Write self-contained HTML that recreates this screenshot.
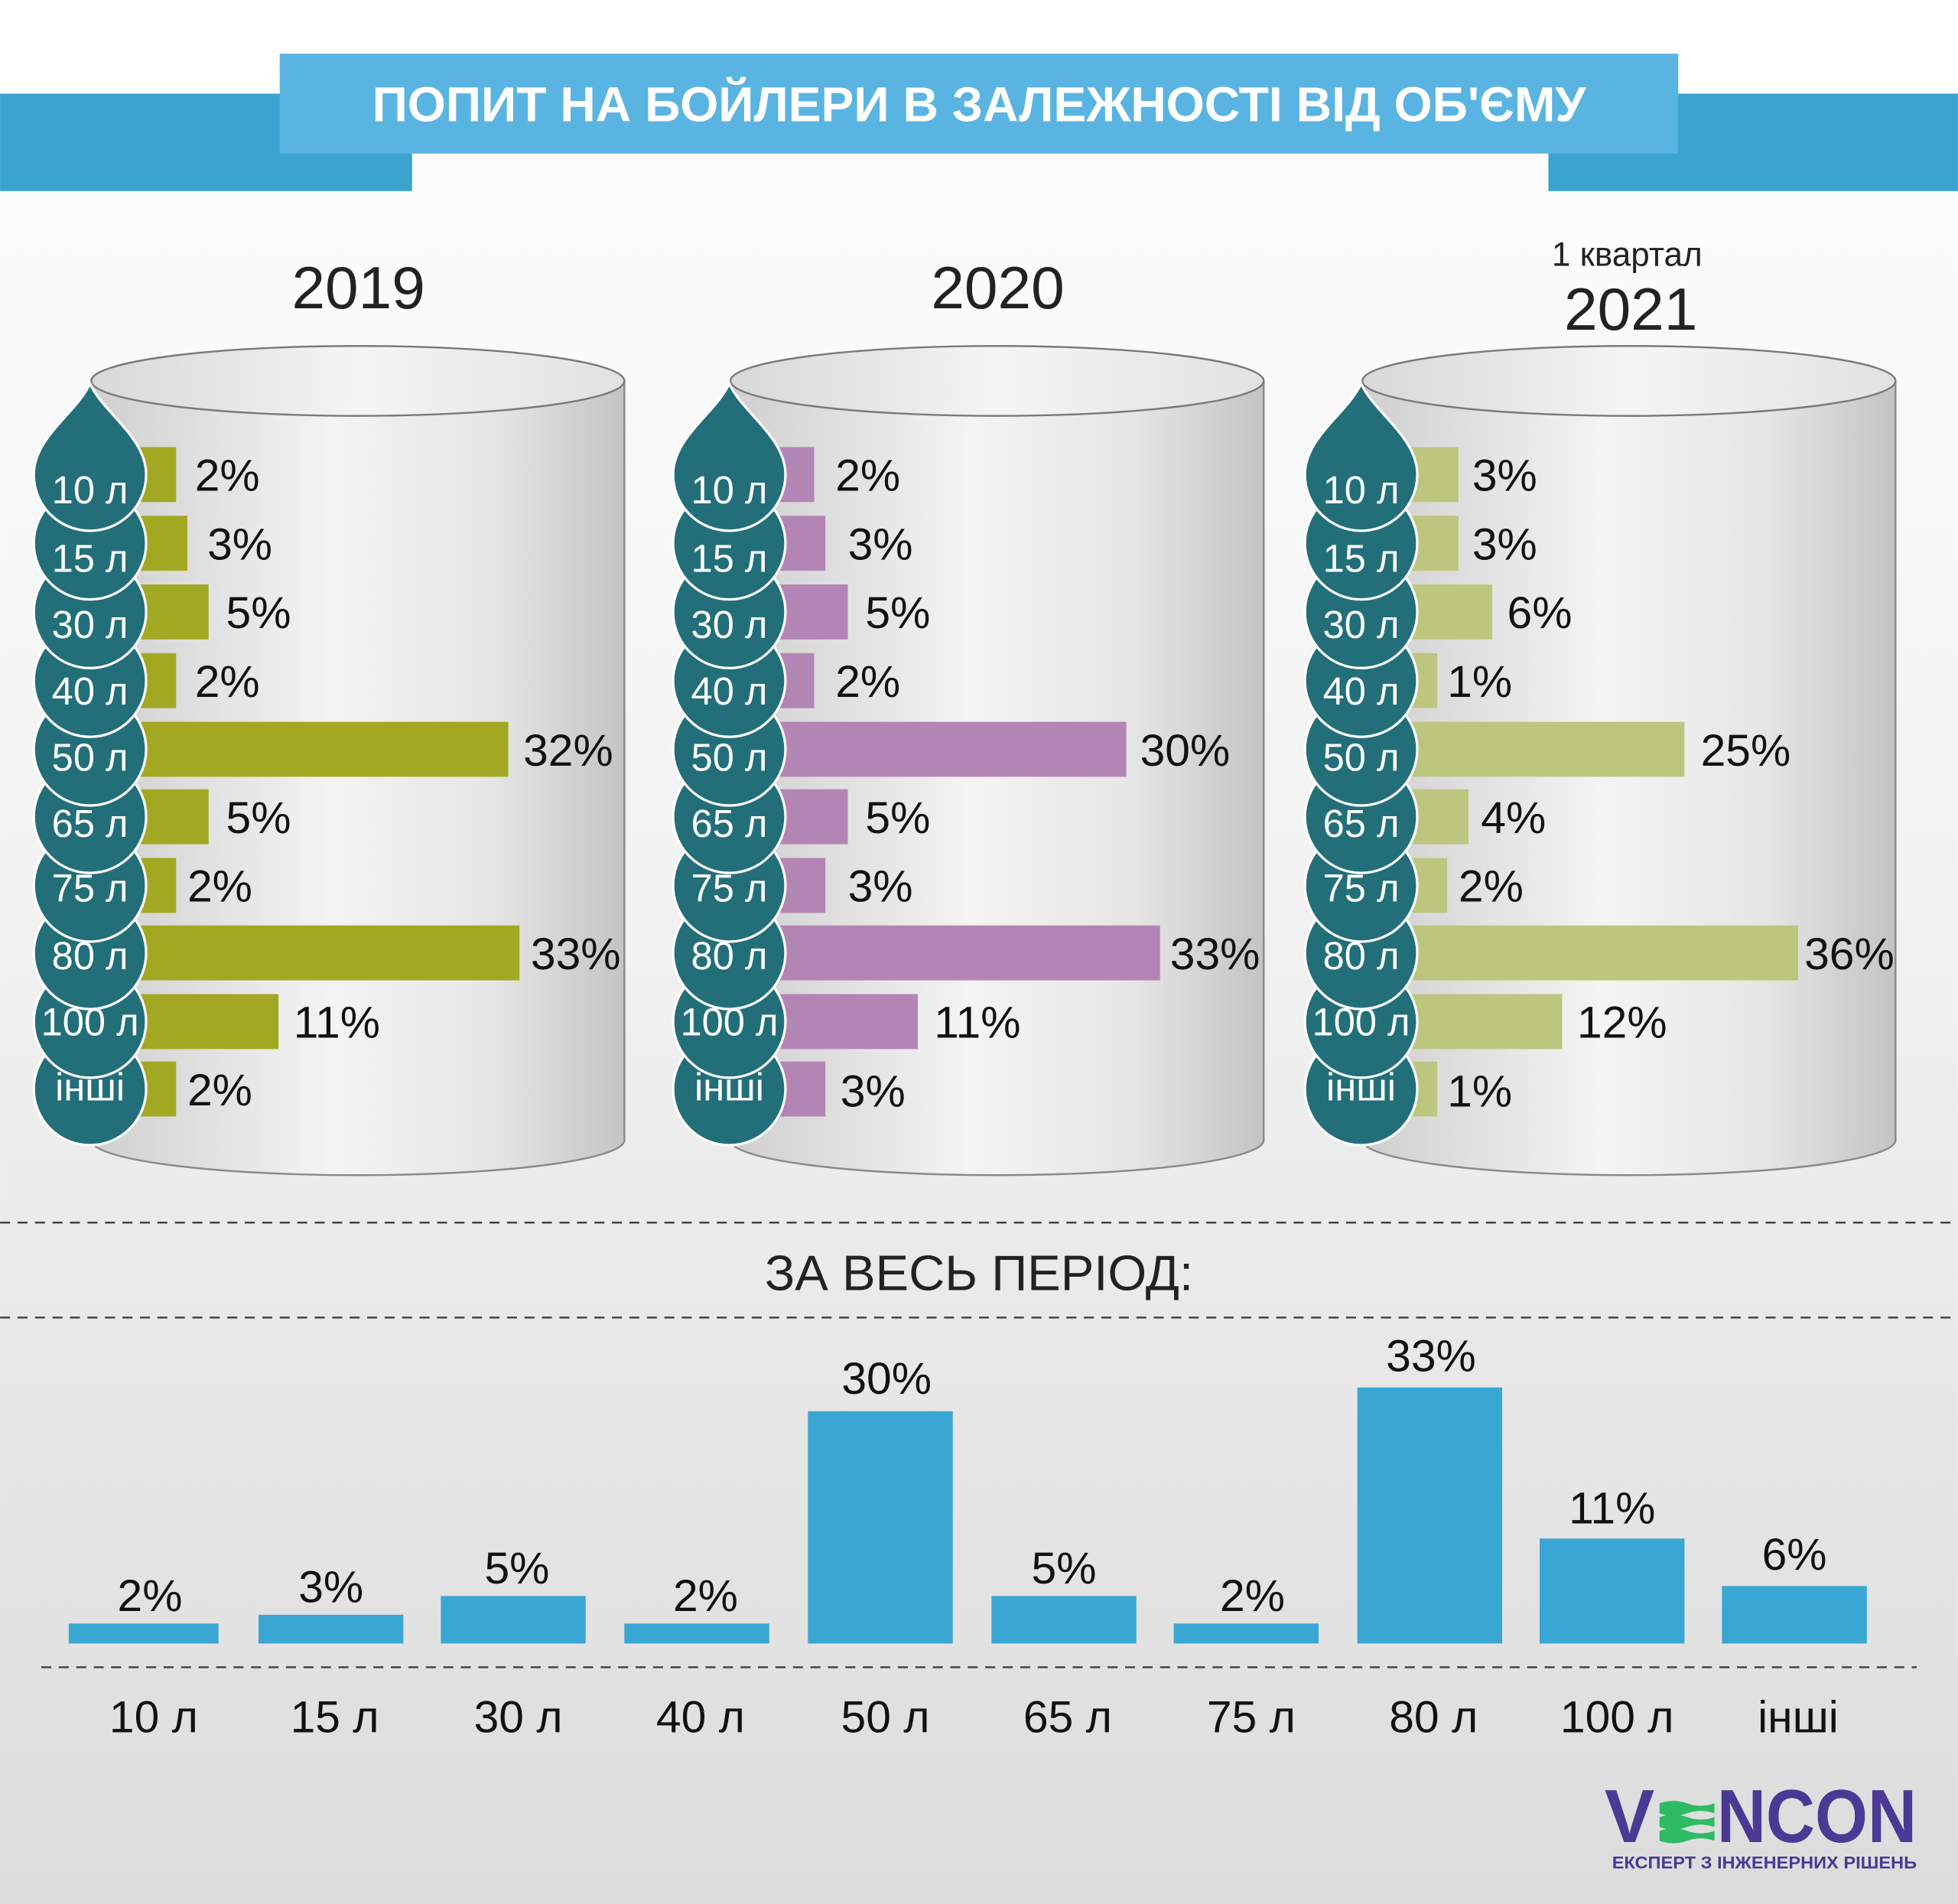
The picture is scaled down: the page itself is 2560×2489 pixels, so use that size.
<!DOCTYPE html>
<html><head><meta charset="utf-8"><style>html,body{margin:0;padding:0;}svg{display:block}</style></head>
<body>
<svg width="2560" height="2489" viewBox="0 0 1568 1524.6" xmlns="http://www.w3.org/2000/svg" font-family="Liberation Sans, DejaVu Sans, sans-serif">
<defs>
<linearGradient id="bg" x1="0" y1="0" x2="0" y2="1"><stop offset="0" stop-color="#ffffff"/><stop offset="0.5" stop-color="#f1f1f1"/><stop offset="1" stop-color="#dcdcdc"/></linearGradient>
<linearGradient id="cyl" x1="0" y1="0" x2="1" y2="0"><stop offset="0" stop-color="#cfcfcf"/><stop offset="0.45" stop-color="#f4f4f4"/><stop offset="0.75" stop-color="#e6e6e6"/><stop offset="1" stop-color="#c4c4c4"/></linearGradient>
<linearGradient id="top" x1="0" y1="0" x2="1" y2="0"><stop offset="0" stop-color="#d8d8d8"/><stop offset="0.5" stop-color="#f4f4f4"/><stop offset="1" stop-color="#e2e2e2"/></linearGradient>
<g id="cylinder">
<path d="M73,305 L73,913 A213.5,28 0 0 0 500,913 L500,305 Z" fill="url(#cyl)" stroke="#8a8a8a" stroke-width="1.5"/>
<ellipse cx="286.5" cy="305" rx="213.5" ry="28" fill="url(#top)" stroke="#7a7a7a" stroke-width="1.5"/>
</g>
<g id="drops" fill="#236f79" stroke="#fff" stroke-width="2">
<circle cx="72" cy="872" r="45"/><circle cx="72" cy="818" r="45"/><circle cx="72" cy="763" r="45"/><circle cx="72" cy="709" r="45"/><circle cx="72" cy="654" r="45"/><circle cx="72" cy="600" r="45"/><circle cx="72" cy="545" r="45"/><circle cx="72" cy="490" r="45"/><circle cx="72" cy="435" r="45"/>
<path d="M72,307 C62,330 27,350 27,380 A45,45 0 1 0 117,380 C117,350 82,330 72,307 Z"/>
</g>
</defs>
<rect x="0" y="0" width="1568" height="1525" fill="url(#bg)"/>
<rect x="0" y="75" width="330" height="78" fill="#3aa3d0"/>
<rect x="1240" y="75" width="328" height="78" fill="#3aa3d0"/>
<rect x="224" y="43" width="1120" height="80" fill="#5ab4e2"/>
<text x="784" y="97" text-anchor="middle" fill="#fff" font-size="39" font-weight="bold" textLength="972" lengthAdjust="spacingAndGlyphs">ПОПИТ НА БОЙЛЕРИ В ЗАЛЕЖНОСТІ ВІД ОБ'ЄМУ</text>
<text x="287" y="247" text-anchor="middle" font-size="48" fill="#222">2019</text>
<text x="799" y="247" text-anchor="middle" font-size="48" fill="#222">2020</text>
<text x="1303" y="213" text-anchor="middle" font-size="27" fill="#222">1 квартал</text>
<text x="1306" y="264" text-anchor="middle" font-size="48" fill="#222">2021</text>
<use href="#cylinder"/>
<use href="#cylinder" x="512"/>
<use href="#cylinder" x="1018"/>
<g fill="#a3a822">
<rect x="110" y="358" width="31" height="44"/><rect x="110" y="413" width="40" height="44"/><rect x="110" y="468" width="57" height="44"/><rect x="110" y="523" width="31" height="44"/><rect x="110" y="578" width="297" height="44"/><rect x="110" y="632" width="57" height="44"/><rect x="110" y="687" width="31" height="44"/><rect x="110" y="741" width="306" height="44"/><rect x="110" y="796" width="113" height="44"/><rect x="110" y="850" width="31" height="44"/>
</g>
<g font-size="36" fill="#111">
<text x="156" y="393">2%</text><text x="166" y="448">3%</text><text x="181" y="503">5%</text><text x="156" y="558">2%</text><text x="419" y="613">32%</text><text x="181" y="667">5%</text><text x="150" y="722">2%</text><text x="425" y="776">33%</text><text x="235" y="831">11%</text><text x="150" y="885">2%</text>
</g>
<g fill="#b385b5">
<rect x="622" y="358" width="30" height="44"/><rect x="622" y="413" width="39" height="44"/><rect x="622" y="468" width="57" height="44"/><rect x="622" y="523" width="30" height="44"/><rect x="622" y="578" width="280" height="44"/><rect x="622" y="632" width="57" height="44"/><rect x="622" y="687" width="39" height="44"/><rect x="622" y="741" width="307" height="44"/><rect x="622" y="796" width="113" height="44"/><rect x="622" y="850" width="39" height="44"/>
</g>
<g font-size="36" fill="#111">
<text x="669" y="393">2%</text><text x="679" y="448">3%</text><text x="693" y="503">5%</text><text x="669" y="558">2%</text><text x="913" y="613">30%</text><text x="693" y="667">5%</text><text x="679" y="722">3%</text><text x="937" y="776">33%</text><text x="748" y="831">11%</text><text x="673" y="886">3%</text>
</g>
<g fill="#bdc67f">
<rect x="1128" y="358" width="40" height="44"/><rect x="1128" y="413" width="40" height="44"/><rect x="1128" y="468" width="67" height="44"/><rect x="1128" y="523" width="23" height="44"/><rect x="1128" y="578" width="221" height="44"/><rect x="1128" y="632" width="48" height="44"/><rect x="1128" y="687" width="31" height="44"/><rect x="1128" y="741" width="312" height="44"/><rect x="1128" y="796" width="123" height="44"/><rect x="1128" y="850" width="23" height="44"/>
</g>
<g font-size="36" fill="#111">
<text x="1179" y="393">3%</text><text x="1179" y="448">3%</text><text x="1207" y="503">6%</text><text x="1159" y="558">1%</text><text x="1362" y="613">25%</text><text x="1186" y="667">4%</text><text x="1168" y="722">2%</text><text x="1445" y="776">36%</text><text x="1263" y="831">12%</text><text x="1159" y="886">1%</text>
</g>
<use href="#drops"/>
<use href="#drops" x="512"/>
<use href="#drops" x="1018"/>
<g font-size="31" fill="#fff" text-anchor="middle">
<text x="72" y="403">10 л</text><text x="72" y="458">15 л</text><text x="72" y="511">30 л</text><text x="72" y="564">40 л</text><text x="72" y="617">50 л</text><text x="72" y="670">65 л</text><text x="72" y="722">75 л</text><text x="72" y="776">80 л</text><text x="72" y="829">100 л</text><text x="72" y="881">інші</text>
<text x="584" y="403">10 л</text><text x="584" y="458">15 л</text><text x="584" y="511">30 л</text><text x="584" y="564">40 л</text><text x="584" y="617">50 л</text><text x="584" y="670">65 л</text><text x="584" y="722">75 л</text><text x="584" y="776">80 л</text><text x="584" y="829">100 л</text><text x="584" y="881">інші</text>
<text x="1090" y="403">10 л</text><text x="1090" y="458">15 л</text><text x="1090" y="511">30 л</text><text x="1090" y="564">40 л</text><text x="1090" y="617">50 л</text><text x="1090" y="670">65 л</text><text x="1090" y="722">75 л</text><text x="1090" y="776">80 л</text><text x="1090" y="829">100 л</text><text x="1090" y="881">інші</text>
</g>
<g stroke="#444" stroke-width="1.5" stroke-dasharray="8,6">
<line x1="0" y1="979" x2="1568" y2="979"/><line x1="0" y1="1055" x2="1568" y2="1055"/><line x1="33" y1="1335" x2="1535" y2="1335"/>
</g>
<text x="784" y="1033" text-anchor="middle" font-size="40" fill="#222">ЗА ВЕСЬ ПЕРІОД:</text>
<g fill="#3aa6d4">
<rect x="55" y="1300" width="120" height="16"/><rect x="207" y="1293" width="116" height="23"/><rect x="353" y="1278" width="116" height="38"/><rect x="500" y="1300" width="116" height="16"/><rect x="647" y="1130" width="116" height="186"/><rect x="794" y="1278" width="116" height="38"/><rect x="940" y="1300" width="116" height="16"/><rect x="1087" y="1111" width="116" height="205"/><rect x="1233" y="1232" width="116" height="84"/><rect x="1379" y="1270" width="116" height="46"/>
</g>
<g font-size="36" fill="#111" text-anchor="middle">
<text x="120" y="1290">2%</text><text x="265" y="1283">3%</text><text x="414" y="1268">5%</text><text x="565" y="1290">2%</text><text x="710" y="1116">30%</text><text x="852" y="1268">5%</text><text x="1003" y="1290">2%</text><text x="1146" y="1098">33%</text><text x="1291" y="1220">11%</text><text x="1437" y="1257">6%</text>
<text x="123" y="1387">10 л</text><text x="268" y="1387">15 л</text><text x="415" y="1387">30 л</text><text x="561" y="1387">40 л</text><text x="709" y="1387">50 л</text><text x="855" y="1387">65 л</text><text x="1002" y="1387">75 л</text><text x="1148" y="1387">80 л</text><text x="1295" y="1387">100 л</text><text x="1440" y="1387">інші</text>
</g>
<text x="1285" y="1475" font-size="60" font-weight="bold" fill="#4a3995">V</text>
<g fill="#2dbb63"><path d="M1329,1444 q11,-4 22,0 t22,0 v8 q-11,-4 -22,0 t-22,0z"/><path d="M1329,1455 q11,-4 22,0 t22,0 v8 q-11,-4 -22,0 t-22,0z"/><path d="M1329,1466 q11,-4 22,0 t22,0 v8 q-11,-4 -22,0 t-22,0z"/></g>
<text x="1375" y="1475" font-size="60" font-weight="bold" fill="#4a3995" textLength="160" lengthAdjust="spacingAndGlyphs">NCON</text>
<text x="1291" y="1496" font-size="13.5" font-weight="bold" fill="#4a3995" textLength="244" lengthAdjust="spacingAndGlyphs">ЕКСПЕРТ З ІНЖЕНЕРНИХ РІШЕНЬ</text>
</svg>
</body></html>
